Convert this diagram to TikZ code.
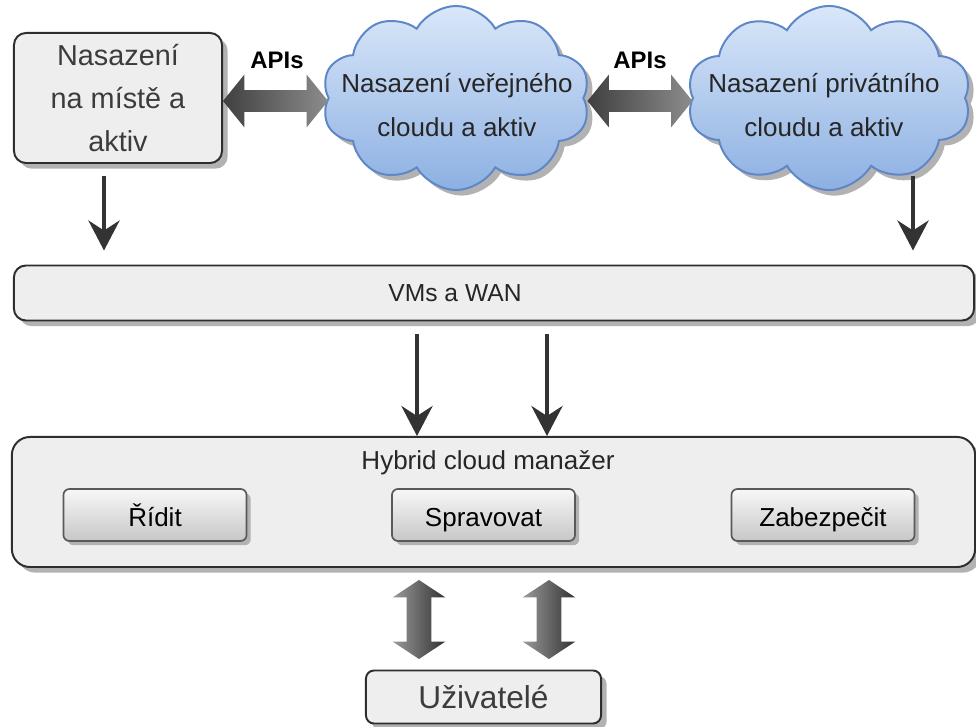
\documentclass[tikz,border=0pt]{standalone}
\usepackage{fontspec}
\setmainfont{Liberation Sans}
\usetikzlibrary{arrows.meta,positioning,shapes.symbols,shapes.arrows,shadows}

\definecolor{boxfill}{HTML}{EEEEEE}
\definecolor{boxline}{HTML}{2E2E2E}
\definecolor{cloudtop}{HTML}{D9E7F9}
\definecolor{cloudbot}{HTML}{8DB0E2}
\definecolor{cloudline}{HTML}{5F86C6}
\definecolor{txtgray}{HTML}{3C3C3C}

\begin{document}
\begin{tikzpicture}[x = 0.025cm, y = -0.025cm,
		panel/.style = {rectangle, rounded corners = 0.3cm, draw = boxline, line width = 1.4pt, fill = boxfill,
			drop shadow = {shadow xshift = 4pt, shadow yshift = -4pt, fill = black!30, opacity = 1}},
		subbox/.style = {rectangle, rounded corners = 0.15cm, draw = black!65, line width = 1.2pt,
			top color = black!3, bottom color = black!22, minimum width = 4.575cm, minimum height = 1.3cm,
			drop shadow = {shadow xshift = 3pt, shadow yshift = -3pt, fill = black!30, opacity = 1},
			text height = 21pt, text depth = 4pt, font = \fontsize{18.5}{22}\selectfont},
		cloudnode/.style = {cloud, cloud puffs = 10, cloud puff arc = 120, draw = cloudline, line width = 1.4pt,
			top color = cloudtop, bottom color = cloudbot, inner sep = 0pt, minimum height = 4.6cm,
			drop shadow = {shadow xshift = 4pt, shadow yshift = -4pt, fill = black!30, opacity = 1}},
		cloudtext/.style = {align = center, text = black!85, font = \fontsize{18.5}{31}\selectfont},
		apiarrow/.style = {double arrow, double arrow head extend = 0.39cm, double arrow tip angle = 102,
			inner sep = 0.2625cm, minimum height = 2.625cm, left color = black!75, right color = black!45},
		usrarrow/.style = {double arrow, shape border rotate = 90, double arrow head extend = 0.35cm,
			double arrow tip angle = 113, inner sep = 0.3cm, minimum height = 1.975cm,
			left color = black!40, right color = black!80},
		apilabel/.style = {font = \bfseries\fontsize{17}{20}\selectfont},
		blkarrow/.style = {draw = black!80, line width = 2.6pt, -{Stealth[length = 0.75cm, width = 0.78cm, inset = 0.25cm]}}]
	\useasboundingbox (0,0) rectangle (976,727);

	% top row
	\node (loc) at (118,98) [panel, minimum width = 5.2cm, minimum height = 3.25cm, align = center, text = txtgray,
		font = \fontsize{20.5}{30.6}\selectfont] {Nasazení\\na místě a\\aktiv};
	\node (pub) at (456,98) [cloudnode, minimum width = 6.7cm] {};
	\node (pubtxt) at (457,105) [cloudtext] {Nasazení veřejného\\cloudu a aktiv};
	\node (priv) at (829,98) [cloudnode, minimum width = 7.1cm] {};
	\node (privtxt) at (824,105) [cloudtext] {Nasazení privátního\\cloudu a aktiv};

	\node (api1) at (275.5,101) [apiarrow] {};
	\node (api2) at (640,101) [apiarrow] {};
	\node (api1lbl) at (277,60) [apilabel] {APIs};
	\node (api2lbl) at (640,60) [apilabel] {APIs};

	% middle
	\node (vms) at (494,293) [panel, minimum width = 24cm, minimum height = 1.375cm] {};
	\node (vmstxt) at (455,293) [text = black!85, font = \fontsize{17.5}{20}\selectfont] {VMs a WAN};

	\node (hyb) at (493.5,502) [panel, rounded corners = 0.45cm, minimum width = 24.075cm, minimum height = 3.25cm] {};
	\node (hybtxt) at (488,463) [text = black!85, font = \fontsize{18.5}{22}\selectfont] {Hybrid cloud manažer};
	\node (ridit) at (155,515) [subbox] {Řídit};
	\node (sprav) at (483.5,515) [subbox] {Spravovat};
	\node (zabez) at (823,515) [subbox] {Zabezpečit};

	% bottom
	\node (usr) at (483.5,697) [panel, rounded corners = 0.2cm, minimum width = 5.875cm, minimum height = 1.325cm,
		text = txtgray, font = \fontsize{22.5}{26}\selectfont] {Uživatelé};
	\node (usr1) at (419,619.5) [usrarrow] {};
	\node (usr2) at (549,619.5) [usrarrow] {};

	% connectors
	\coordinate (c1) at (104,0);
	\coordinate (c2) at (913,0);
	\coordinate (c3) at (417,0);
	\coordinate (c4) at (547,0);
	\draw [blkarrow] (c1 |- loc.south) ++(0,12) -- ([yshift = 14*0.025cm]c1 |- vms.north);
	\draw [blkarrow] (c2 |- priv.south) ++(0,-15) -- ([yshift = 14*0.025cm]c2 |- vms.north);
	\draw [blkarrow] (c3 |- vms.south) ++(0,13) -- (c3 |- hyb.north);
	\draw [blkarrow] (c4 |- vms.south) ++(0,13) -- (c4 |- hyb.north);
\end{tikzpicture}
\end{document}
